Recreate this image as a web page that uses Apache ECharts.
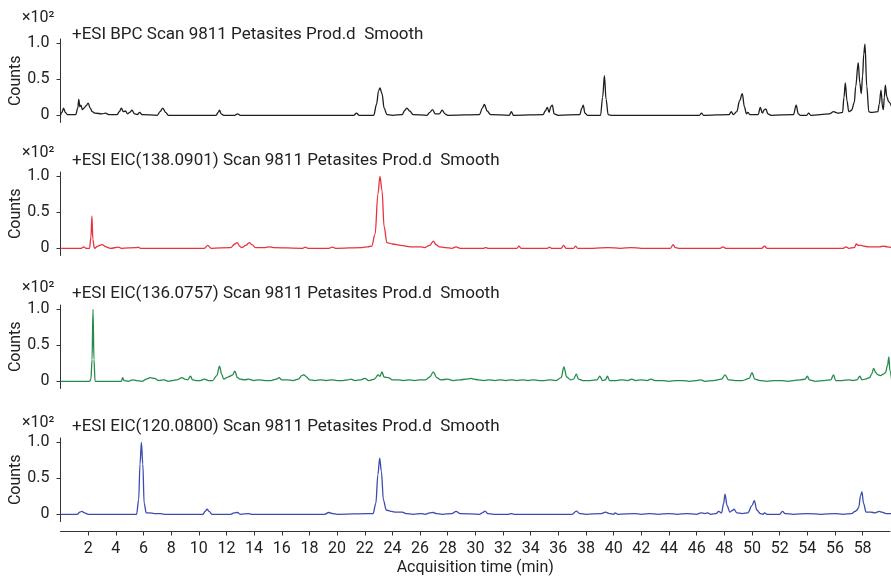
<!DOCTYPE html>
<html>
<head>
<meta charset="utf-8">
<title>Petasites Prod.d chromatograms</title>
<script src="https://cdn.jsdelivr.net/npm/echarts@6/dist/echarts.min.js"></script>
<style>
  html, body { margin: 0; padding: 0; background: #fff; }
  #chart { width: 891px; height: 577px; }
</style>
</head>
<body>
<div id="chart"></div>
<script>
  // panel titles (top to bottom)
  const titles = [
    '+ESI BPC Scan 9811 Petasites Prod.d  Smooth',
    '+ESI EIC(138.0901) Scan 9811 Petasites Prod.d  Smooth',
    '+ESI EIC(136.0757) Scan 9811 Petasites Prod.d  Smooth',
    '+ESI EIC(120.0800) Scan 9811 Petasites Prod.d  Smooth'
  ]
  const colors = ['#1e1e1e', '#e8323c', '#238c4b', '#3c4bb0']

  const xTicks = [2,4,6,8,10,12,14,16,18,20,22,24,26,28,30,32,34,36,38,40,42,44,46,48,50,52,54,56,58]
  const yTicks = [0, 0.5, 1.0]
  const yTickLabels = ['0', '0.5', '1.0']

  // [time (min), counts x10^2]
  const bpc = [
    [0.0,0.00],[0.1,0.04],[0.22,0.10],[0.35,0.04],[0.5,0.01],[1.1,0.01],
    [1.25,0.10],[1.32,0.22],[1.40,0.12],[1.48,0.14],[1.58,0.08],[1.7,0.10],[1.85,0.13],[2.0,0.17],[2.15,0.10],[2.3,0.05],[2.5,0.03],[3.0,0.02],[3.25,0.03],[3.5,0.01],[4.1,0.01],
    [4.25,0.05],[4.4,0.10],[4.55,0.05],[4.7,0.06],[4.85,0.02],[5.0,0.04],[5.17,0.07],[5.35,0.02],[5.55,0.01],[5.73,0.04],[5.9,0.01],
    [7.0,0.00],[7.2,0.05],[7.4,0.10],[7.6,0.04],[7.8,0.00],
    [11.25,0.00],[11.4,0.04],[11.5,0.07],[11.62,0.02],[11.8,0.00],
    [12.6,0.00],[12.8,0.02],[13.0,0.00],
    [21.2,0.00],[21.4,0.03],[21.6,0.00],
    [22.65,0.00],[22.85,0.15],[23.0,0.34],[23.1,0.38],[23.25,0.30],[23.4,0.10],[23.6,0.01],[24.0,0.00],
    [24.7,0.01],[24.9,0.07],[25.05,0.10],[25.25,0.06],[25.5,0.01],[26.5,0.00],
    [26.7,0.04],[26.9,0.08],[27.1,0.02],[27.4,0.02],[27.6,0.07],[27.8,0.02],[28.0,0.00],
    [30.3,0.01],[30.5,0.10],[30.65,0.15],[30.85,0.06],[31.1,0.01],
    [32.45,0.00],[32.6,0.05],[32.75,0.00],
    [34.9,0.01],[35.05,0.06],[35.2,0.11],[35.33,0.04],[35.45,0.12],[35.56,0.14],[35.7,0.02],[36.0,0.00],
    [37.55,0.01],[37.7,0.10],[37.8,0.14],[37.92,0.03],[38.1,0.00],
    [39.05,0.00],[39.2,0.25],[39.33,0.55],[39.45,0.22],[39.6,0.01],[39.8,0.00],
    [46.2,0.00],[46.35,0.03],[46.5,0.00],
    [48.35,0.01],[48.5,0.05],[48.65,0.01],[48.9,0.05],[49.1,0.20],[49.3,0.30],[49.45,0.12],[49.6,0.02],[49.7,0.04],[49.85,0.01],
    [50.45,0.01],[50.6,0.11],[50.75,0.03],[50.9,0.08],[51.0,0.09],[51.15,0.02],[51.4,0.00],
    [53.0,0.01],[53.2,0.14],[53.35,0.02],[53.5,0.00],
    [53.95,0.00],[54.1,0.03],[54.25,0.00],
    [55.6,0.02],[55.9,0.05],[56.2,0.03],[56.55,0.04],
    [56.65,0.25],[56.75,0.45],[56.87,0.20],[57.0,0.05],[57.2,0.07],[57.4,0.18],[57.5,0.40],[57.68,0.73],[57.8,0.45],[57.9,0.30],[58.0,0.55],[58.08,0.85],[58.17,0.99],[58.3,0.40],[58.45,0.05],[58.6,0.04],[59.1,0.05],
    [59.2,0.15],[59.33,0.35],[59.45,0.10],[59.5,0.08],[59.57,0.25],[59.64,0.42],[59.75,0.26],[59.88,0.19],[60.1,0.12]
  ]
  const eic138 = [
    [0,0],[1.5,0],[1.67,0.02],[1.85,0],[2.1,0],[2.2,0.15],[2.27,0.45],[2.34,0.12],[2.45,0],[2.7,0.03],[3.0,0.05],[3.3,0.02],[3.6,0],
    [4.2,0.015],[4.4,0],[5.5,0.01],[5.6,0.015],[5.8,0],[10.4,0],[10.65,0.04],[10.9,0],
    [12.3,0.01],[12.6,0.06],[12.78,0.08],[12.95,0.03],[13.1,0.01],[13.4,0.04],[13.65,0.08],[13.85,0.05],[14.1,0.01],
    [14.8,0.01],[15.1,0.02],[15.4,0.01],[17.5,0],[17.7,0.015],[17.9,0],[19.4,0],[19.66,0.015],[19.9,0],
    [21.8,0.01],[22.2,0.02],[22.5,0.03],[22.75,0.2],[22.95,0.75],[23.1,1.0],[23.25,0.8],[23.4,0.3],[23.6,0.08],[24.0,0.06],[24.6,0.04],[25.3,0.02],[26.06,0.02],[26.3,0.01],
    [26.7,0.04],[26.96,0.10],[27.15,0.05],[27.4,0.02],[27.8,0.01],[28.3,0],[28.6,0.02],[28.9,0],
    [30.6,0],[30.75,0.01],[30.9,0],[33.0,0],[33.15,0.03],[33.3,0],[35.2,0],[35.36,0.015],[35.5,0],
    [36.2,0],[36.38,0.04],[36.55,0],[37.1,0],[37.25,0.03],[37.4,0],[38.5,0],[39.6,0.01],[40.5,0],[41.3,0.01],[42.0,0],
    [44.1,0],[44.3,0.05],[44.45,0.01],[44.7,0],[47.7,0],[47.9,0.02],[48.1,0],[50.7,0],[50.9,0.03],[51.1,0],
    [56.6,0],[56.8,0.02],[57.0,0],[57.4,0.01],[57.55,0.06],[57.7,0.04],[57.9,0.04],[58.1,0.03],[58.4,0.02],[58.8,0.02],[59.2,0.02],[59.5,0.03],[59.8,0.02],[60.1,0.01]
  ]
  const eic136 = [
    [0,0],[2.1,0],[2.2,0.03],[2.28,0.3],[2.35,1.0],[2.42,0.3],[2.5,0],[4.4,0],[4.5,0.05],[4.6,0.01],[4.9,0],
    [5.2,0.02],[5.5,0.01],[5.9,0],[6.2,0.03],[6.5,0.05],[6.8,0.04],[7.1,0.01],[7.5,0.02],[7.8,0],[8.1,0.01],[8.4,0.02],
    [8.8,0.05],[9.0,0.03],[9.2,0.02],[9.4,0.07],[9.55,0.02],[9.8,0.01],[10.1,0.01],[10.4,0.03],[10.7,0.01],[11.0,0.01],
    [11.3,0.08],[11.5,0.21],[11.65,0.1],[11.8,0.03],[12.0,0.05],[12.25,0.07],[12.45,0.09],[12.6,0.14],[12.8,0.05],[13.0,0.03],
    [13.3,0.02],[13.6,0.03],[14.0,0.01],[14.3,0.02],[14.8,0.01],[15.2,0.01],[15.6,0.03],[15.8,0.05],[16.0,0.02],[16.4,0.02],
    [16.8,0.01],[17.2,0.03],[17.45,0.08],[17.6,0.09],[17.8,0.06],[18.0,0.02],[18.4,0.01],[18.8,0.02],[19.2,0.01],[19.6,0.02],
    [20.0,0.01],[20.4,0.01],[20.8,0.02],[21.0,0.03],[21.3,0.01],[21.7,0.02],[22.0,0.04],[22.3,0.01],[22.7,0.03],
    [22.97,0.09],[23.1,0.07],[23.24,0.13],[23.4,0.06],[23.7,0.05],[24.0,0.02],[24.4,0.02],[24.8,0.01],[25.2,0.02],[25.6,0.01],
    [26.0,0.02],[26.4,0.02],[26.7,0.06],[26.96,0.13],[27.2,0.05],[27.5,0.02],[28.0,0.03],[28.4,0.01],[28.9,0.02],[29.3,0.03],
    [29.7,0.04],[29.9,0.03],[30.2,0.02],[30.6,0.01],[31.0,0.02],[31.4,0.01],[31.8,0.02],[32.2,0.01],[32.6,0.02],[33.0,0.01],
    [33.4,0.02],[33.8,0.01],[34.2,0.02],[34.6,0.01],[35.0,0.01],[35.4,0.02],[35.8,0.01],[36.2,0.05],[36.4,0.20],[36.6,0.06],
    [36.9,0.02],[37.1,0.03],[37.3,0.10],[37.45,0.03],[37.8,0.01],[38.3,0.01],[38.8,0.02],[39.0,0.07],[39.2,0.01],[39.4,0.02],
    [39.55,0.07],[39.7,0.01],[40.2,0.01],[40.6,0.02],[41.0,0.01],[41.3,0.03],[41.6,0.01],[42.0,0.02],[42.4,0.01],[42.7,0.03],
    [43.0,0.01],[43.5,0.01],[44.0,0],[44.5,0.01],[45.0,0.01],[45.5,0],[46.0,0.01],[46.3,0.02],[46.6,0],[47.2,0.01],
    [47.8,0.03],[48.05,0.09],[48.3,0.02],[48.8,0.01],[49.3,0.01],[49.8,0.04],[50.0,0.12],[50.2,0.03],[50.6,0.01],[51.1,0],
    [51.6,0.01],[52.1,0.01],[52.6,0],[53.0,0.01],[53.5,0.02],[53.85,0.03],[54.0,0.07],[54.15,0.02],[54.6,0],[55.2,0.01],
    [55.7,0.02],[55.9,0.09],[56.05,0.01],[56.5,0.01],[57.0,0.02],[57.3,0.01],[57.6,0.02],[57.8,0.07],[57.95,0.02],[58.2,0.03],
    [58.5,0.05],[58.65,0.10],[58.8,0.18],[58.95,0.12],[59.1,0.09],[59.3,0.08],[59.5,0.10],[59.65,0.12],[59.8,0.22],[59.9,0.34],[59.97,0.15],[60.1,0.02]
  ]
  const eic120 = [
    [0,0],[1.2,0],[1.4,0.03],[1.55,0.04],[1.75,0.02],[2.0,0],[5.5,0],[5.65,0.2],[5.75,0.7],[5.85,1.0],[5.95,0.7],[6.05,0.15],[6.2,0.02],
    [6.4,0.02],[6.8,0.01],[7.2,0.01],[7.5,0],[10.3,0],[10.45,0.04],[10.6,0.07],[10.75,0.04],[10.95,0],[12.3,0],[12.55,0.02],[12.8,0.025],[13.0,0],
    [13.6,0.01],[13.8,0],[19.1,0],[19.4,0.025],[19.7,0.01],[20.0,0],[22.2,0.01],[22.6,0.01],[22.8,0.15],[22.95,0.55],[23.08,0.78],
    [23.2,0.6],[23.35,0.2],[23.55,0.06],[23.9,0.04],[24.3,0.03],[24.7,0.03],[25.0,0.01],[25.5,0],[26.1,0.01],[26.35,0],[26.7,0.02],
    [26.95,0.025],[27.2,0.01],[27.6,0],[28.3,0.01],[28.6,0.04],[28.9,0.01],[30.3,0],[30.5,0.02],[30.7,0.045],[30.9,0.01],[31.3,0],
    [32.4,0],[32.6,0.01],[32.8,0],[37.0,0],[37.3,0.045],[37.55,0.01],[38.0,0],[39.1,0.01],[39.4,0.03],[39.7,0.01],[40.0,0],
    [40.1,0.02],[40.3,0],[41.5,0.01],[42.0,0],[42.6,0.01],[43.2,0],[44.0,0.01],[44.6,0],[45.3,0.01],[46.0,0],[46.3,0.02],
    [46.6,0.01],[46.8,0.02],[47.0,0],[47.4,0.01],[47.6,0.04],[47.8,0.02],[47.95,0.15],[48.05,0.28],[48.2,0.12],[48.4,0.03],
    [48.55,0.05],[48.7,0.07],[48.9,0.02],[49.3,0.01],[49.7,0.02],[50.0,0.12],[50.17,0.19],[50.35,0.06],[50.6,0.01],[50.8,0],
    [50.9,0.02],[51.1,0],[52.0,0],[52.2,0.04],[52.4,0.01],[53.0,0],[54.0,0.01],[55.0,0],[56.0,0.01],[56.6,0],[57.2,0.01],
    [57.45,0.04],[57.6,0.06],[57.72,0.10],[57.85,0.26],[57.95,0.31],[58.07,0.15],[58.25,0.03],[58.6,0.03],[58.9,0.02],
    [59.2,0.04],[59.4,0.03],[59.7,0.01],[60.1,0.01]
  ]
  const traces = [bpc, eic138, eic136, eic120]

  // layout of the four panels
  const gridTops = [39, 172, 305, 438]
  const gridHeight = 83.5
  const titleY = [35, 161, 293.5, 427]
  const multY = [18, 153, 288, 423]

  const font = 'Roboto, "Noto Sans", sans-serif'
  const axisColor = '#333'

  let grids = [], xAxes = [], yAxes = [], series = [], graphics = []
  for (let i = 0; i < 4; i++) {
    // outerBoundsMode none: keep the grid where we put it (v6 otherwise shrinks it)
    grids.push({ left: 60.5, right: 1, top: gridTops[i], height: gridHeight, containLabel: false, outerBoundsMode: 'none' })
    xAxes.push({
      type: 'value', gridIndex: i, min: 0, max: 59.98,
      show: i === 3,
      offset: 10,
      axisLine: { show: true, onZero: false, lineStyle: { color: axisColor, width: 1 } },
      axisTick: { show: true, length: 4, customValues: xTicks, lineStyle: { color: axisColor } },
      axisLabel: { customValues: xTicks, fontSize: 16, color: '#222', fontFamily: font, margin: 9 },
      splitLine: { show: false },
      name: i === 3 ? 'Acquisition time (min)' : '',
      nameLocation: 'middle', nameGap: 28, nameMoveOverlap: false,
      nameTextStyle: { fontSize: 16, color: '#222', fontFamily: font }
    })
    yAxes.push({
      type: 'value', gridIndex: i, min: -0.1, max: 1.06,
      offset: 3,
      axisLine: { show: true, lineStyle: { color: axisColor, width: 1 } },
      axisTick: { show: true, length: 4, customValues: yTicks, lineStyle: { color: axisColor } },
      axisLabel: {
        customValues: yTicks, fontSize: 16, color: '#222', fontFamily: font, margin: 8,
        formatter: function (v) { return yTickLabels[yTicks.indexOf(v)] }
      },
      splitLine: { show: false },
      // "Counts" sits between the labels and the left edge
      name: 'Counts', nameLocation: 'middle', nameGap: 34, nameMoveOverlap: false,
      nameTextStyle: { fontSize: 16, color: '#222', fontFamily: font }
    })
    series.push({
      type: 'line', xAxisIndex: i, yAxisIndex: i,
      data: traces[i],
      symbol: 'none', smooth: 0.35, smoothMonotone: 'x',
      lineStyle: { color: colors[i], width: 1.3 },
      silent: true, animation: false
    })
    graphics.push({
      type: 'text', x: 72, y: titleY[i],
      style: { text: titles[i], font: '17px ' + font, fill: '#222', verticalAlign: 'middle' }
    })
    graphics.push({
      type: 'text', x: 22, y: multY[i],
      style: { text: '×10²', font: '16px ' + font, fill: '#222', verticalAlign: 'middle' }
    })
  }

  let options = {
    backgroundColor: '#fff',
    animation: false,
    grid: grids,
    xAxis: xAxes,
    yAxis: yAxes,
    series: series,
    graphic: graphics
  }

  const mychart = echarts.init(document.getElementById('chart'), null, { renderer: 'canvas' })
  mychart.setOption(options)
</script>
</body>
</html>
